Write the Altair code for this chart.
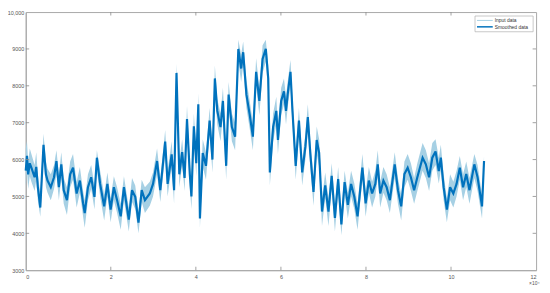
import altair as alt
import pandas as pd

# x in units of 10^4 samples
x_vals = [0.000, 0.029, 0.057, 0.095, 0.133, 0.209, 0.247, 0.285, 0.342, 0.418,
          0.475, 0.513, 0.589, 0.665, 0.722, 0.779, 0.836, 0.893, 0.969, 1.045,
          1.112, 1.197, 1.273, 1.349, 1.387, 1.463, 1.539, 1.616, 1.673, 1.749,
          1.844, 1.920, 1.996, 2.072, 2.148, 2.233, 2.309, 2.423, 2.499, 2.575,
          2.651, 2.727, 2.803, 2.917, 2.993, 3.088, 3.164, 3.279, 3.336, 3.431,
          3.488, 3.545, 3.611, 3.678, 3.735, 3.792, 3.858, 3.896, 3.953, 4.010,
          4.058, 4.096, 4.162, 4.238, 4.324, 4.390, 4.447, 4.504, 4.580, 4.637,
          4.713, 4.770, 4.847, 4.923, 4.999, 5.065, 5.113, 5.189, 5.265, 5.341,
          5.417, 5.493, 5.569, 5.645, 5.702, 5.740, 5.816, 5.892, 5.930, 6.006,
          6.072, 6.120, 6.158, 6.225, 6.272, 6.348, 6.424, 6.500, 6.576, 6.633,
          6.690, 6.766, 6.842, 6.899, 6.966, 7.042, 7.118, 7.194, 7.270, 7.346,
          7.422, 7.498, 7.574, 7.650, 7.726, 7.802, 7.878, 7.916, 7.992, 8.068,
          8.144, 8.220, 8.277, 8.334, 8.410, 8.486, 8.562, 8.676, 8.752, 8.828,
          8.904, 8.980, 9.056, 9.132, 9.208, 9.332, 9.408, 9.484, 9.560, 9.636,
          9.712, 9.760, 9.826, 9.902, 9.978, 10.054, 10.130, 10.206, 10.283, 10.358,
          10.434, 10.548, 10.624, 10.729, 10.776]

smoothed = [5700, 6100, 5600, 5900, 5780, 5520, 5800, 5250, 4700, 6400,
            5600, 5430, 5250, 5520, 5960, 5250, 5870, 5170, 4900, 5600,
            5780, 5080, 5430, 4810, 4550, 5250, 5520, 4990, 6050, 5340,
            4730, 5340, 4640, 5250, 4900, 4460, 5250, 4370, 5170, 4990,
            4290, 5170, 4900, 5080, 5340, 5960, 5170, 6490, 5340, 6140,
            5170, 8350, 5600, 6200, 5500, 7100, 5600, 5000, 6900, 5900,
            7500, 4400, 6180, 5830, 7060, 6000, 8200, 7320, 6880, 7590,
            5830, 7760, 6880, 6620, 9000, 8470, 8910, 7760, 7230, 6620,
            8380, 7590, 8730, 9000, 8200, 5650, 6880, 7320, 6530, 7590,
            7850, 7320, 7760, 8380, 7320, 5830, 7060, 5650, 6350, 7150,
            6180, 5120, 6530, 6180, 4590, 5300, 4590, 5560, 4420, 5470,
            4240, 5390, 4770, 5340, 4990, 4460, 5340, 5780, 4810, 5430,
            5080, 5340, 5870, 5080, 5430, 5250, 4900, 5870, 5170, 4730,
            5610, 5780, 5520, 5170, 5520, 6050, 5870, 5520, 6050, 6220,
            5690, 6050, 5250, 4640, 5250, 5080, 5340, 5780, 5250, 5610,
            5170, 5870, 5520, 4730, 5960]

input_hi = [6300, 6500, 5950, 6300, 6150, 5850, 6200, 5600, 5050, 6700,
            5950, 5750, 5600, 5850, 6250, 5600, 6200, 5500, 5250, 5950,
            6150, 5400, 5800, 5150, 4900, 5600, 5850, 5300, 6250, 5700,
            5050, 5650, 4950, 5550, 5250, 4800, 5550, 4700, 5500, 5300,
            4600, 5450, 5250, 5400, 5650, 6300, 5500, 6800, 5700, 6500,
            5500, 8600, 5950, 6550, 5850, 7450, 5950, 5350, 7250, 6250,
            7800, 4750, 6550, 6200, 7400, 6350, 8550, 7650, 7250, 7950,
            6200, 8100, 7250, 7000, 9250, 8850, 9200, 8150, 7600, 7000,
            8750, 7950, 9100, 9250, 8550, 6000, 7250, 7700, 6900, 7950,
            8200, 7700, 8100, 8700, 7700, 6200, 7400, 6000, 6700, 7500,
            6550, 5500, 6900, 6550, 4950, 5650, 4950, 5900, 4750, 5800,
            4600, 5700, 5100, 5700, 5350, 4800, 5700, 6150, 5150, 5800,
            5400, 5700, 6250, 5400, 5800, 5600, 5250, 6200, 5500, 5050,
            5950, 6150, 5900, 5500, 5900, 6450, 6250, 5900, 6450, 6550,
            6050, 6400, 5600, 4950, 5600, 5400, 5700, 6100, 5600, 5950,
            5500, 6150, 5850, 5050, 6100]

input_lo = [5300, 5700, 5200, 5550, 5400, 5150, 5450, 4900, 4450, 6000,
            5250, 5100, 4900, 5200, 5600, 4900, 5500, 4800, 4500, 5250,
            5450, 4700, 5100, 4450, 4150, 4900, 5200, 4650, 5700, 5000,
            4350, 5000, 4300, 4900, 4550, 4100, 4900, 4050, 4850, 4650,
            4000, 4850, 4550, 4750, 5000, 5600, 4850, 6100, 5000, 5800,
            4800, 7900, 5250, 5850, 5150, 6700, 5250, 4650, 6550, 5550,
            7100, 4150, 5800, 5450, 6700, 5650, 7850, 6950, 6500, 7200,
            5450, 7400, 6500, 6250, 8650, 8100, 8550, 7400, 6850, 6250,
            8000, 7200, 8350, 8650, 7800, 5300, 6500, 6950, 6150, 7200,
            7500, 6950, 7400, 8000, 6950, 5450, 6700, 5300, 6000, 6800,
            5800, 4750, 6150, 5800, 4200, 4950, 4200, 5200, 4050, 5100,
            3950, 5050, 4400, 5000, 4650, 4100, 5000, 5450, 4450, 5100,
            4700, 5000, 5500, 4700, 5100, 4900, 4550, 5500, 4800, 4350,
            5250, 5450, 5150, 4800, 5150, 5700, 5500, 5150, 5700, 5850,
            5350, 5700, 4900, 4300, 4900, 4700, 5000, 5450, 4900, 5250,
            4800, 5500, 5150, 4400, 5650]

x_ticks = [0, 2, 4, 6, 8, 10, 12]
y_ticks = [3000, 4000, 5000, 6000, 7000, 8000, 9000, 10000]
series_names = ["Input data", "Smoothed data"]

W, H = 518, 262
FONT = "Liberation Sans"
AXIS_C = "#a8a8a8"
TICK_C = "#8a8a8a"
LABEL_C = "#555555"
INPUT_C = "#a6d0e4"
SMOOTH_C = "#0072bd"

df = pd.DataFrame({"x": x_vals, "s": smoothed, "hi": input_hi, "lo": input_lo})
xt = pd.DataFrame({"t": x_ticks[1:-1]})
yt = pd.DataFrame({"t": y_ticks[1:-1]})

xscale = alt.Scale(domain=[0, 12], nice=False, zero=False)
yscale = alt.Scale(domain=[3000, 10000], nice=False, zero=False)

xaxis = alt.Axis(values=x_ticks, ticks=False, grid=False, domainColor=AXIS_C,
                 labelColor=LABEL_C, labelFontSize=5.5, labelFont=FONT, labelPadding=4,
                 title="×10⁴", titleFont=FONT, titleFontSize=5, titleFontWeight="normal",
                 titleColor=LABEL_C, titleAnchor="end", titleAlign="right",
                 titleBaseline="top", titleX=W + 3, titleY=11, format="d")
yaxis = alt.Axis(values=y_ticks, ticks=False, grid=False, domainColor=AXIS_C,
                 labelColor=LABEL_C, labelFontSize=5.5, labelFont=FONT, labelPadding=2,
                 title=None,
                 labelExpr="datum.value >= 10000 ? format(datum.value, ',') : format(datum.value, 'd')")


def X(f):
    return alt.X(f, type="quantitative", scale=xscale, axis=xaxis)


def Y(f):
    return alt.Y(f, type="quantitative", scale=yscale, axis=yaxis)


band = alt.Chart(df).mark_area(color=INPUT_C, opacity=1).encode(
    x=X("x"), y=Y("hi"), y2="lo")
line = alt.Chart(df).mark_line(color=SMOOTH_C, strokeWidth=2.2, strokeJoin="miter",
                               strokeMiterLimit=3).encode(
    x=X("x"), y=Y("s"))

tick_len = 3.5
bt = alt.Chart(xt).mark_rule(color=TICK_C, strokeWidth=0.8).encode(
    x=X("t"), y=alt.value(H), y2=alt.value(H - tick_len))
tt = alt.Chart(xt).mark_rule(color=TICK_C, strokeWidth=0.8).encode(
    x=X("t"), y=alt.value(0), y2=alt.value(tick_len))
lt = alt.Chart(yt).mark_rule(color=TICK_C, strokeWidth=0.8).encode(
    y=Y("t"), x=alt.value(0), x2=alt.value(tick_len))
rt = alt.Chart(yt).mark_rule(color=TICK_C, strokeWidth=0.8).encode(
    y=Y("t"), x=alt.value(W - tick_len), x2=alt.value(W))

one = pd.DataFrame({"a": [0]})
leg_box = alt.Chart(one).mark_rect(fill="white", stroke="#b0b0b0", strokeWidth=0.7).encode(
    x=alt.value(456), x2=alt.value(515), y=alt.value(4), y2=alt.value(20))
leg_l1 = alt.Chart(one).mark_rule(color=INPUT_C, strokeWidth=1).encode(
    x=alt.value(458), x2=alt.value(474), y=alt.value(8.5))
leg_l2 = alt.Chart(one).mark_rule(color=SMOOTH_C, strokeWidth=1.5).encode(
    x=alt.value(458), x2=alt.value(474), y=alt.value(15))
leg_t1 = alt.Chart(pd.DataFrame({"n": [series_names[0]]})).mark_text(
    align="left", baseline="middle", fontSize=5, font=FONT, color="#333333").encode(
    x=alt.value(476), y=alt.value(8.5), text="n:N")
leg_t2 = alt.Chart(pd.DataFrame({"n": [series_names[1]]})).mark_text(
    align="left", baseline="middle", fontSize=5, font=FONT, color="#333333").encode(
    x=alt.value(476), y=alt.value(15), text="n:N")

chart = alt.layer(band, line, bt, tt, lt, rt, leg_box, leg_l1, leg_l2, leg_t1, leg_t2).properties(
    width=W, height=H,
    autosize=alt.AutoSizeParams(type="none"),
    padding={"left": 18, "top": 2, "right": 6, "bottom": 19},
    background="white",
).configure_view(stroke=AXIS_C, strokeWidth=1)

chart.save("out.html", embed_options={"renderer": "svg", "actions": False})
